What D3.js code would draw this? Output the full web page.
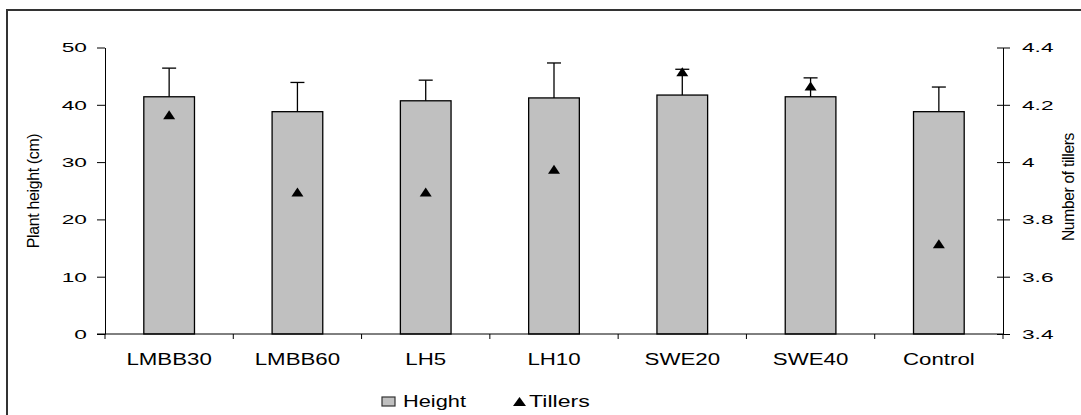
<!DOCTYPE html>
<html><head><meta charset="utf-8">
<script src="https://cdn.jsdelivr.net/npm/d3@7"></script>
<style>body{margin:0;background:#fff}svg{display:block}text{font-family:"Liberation Sans",Arial,sans-serif;fill:#000}</style>
</head><body>
<script>
const categories = ["LMBB30","LMBB60","LH5","LH10","SWE20","SWE40","Control"];
const heightValues = [41.4, 38.8, 40.7, 41.2, 41.7, 41.4, 38.8];
const heightErrors = [5.0, 5.1, 3.6, 6.1, 4.5, 3.3, 4.3];
const tillerValues = [4.16, 3.89, 3.89, 3.97, 4.31, 4.26, 3.71];
const leftTicks = [0, 10, 20, 30, 40, 50];
const rightTicks = [3.4, 3.6, 3.8, 4.0, 4.2, 4.4];
const rightTickLabels = ["3.4","3.6","3.8","4","4.2","4.4"];

const W = 1081, H = 415;
const svg = d3.select("body").append("svg").attr("width", W).attr("height", H);

// frame
svg.append("line").attr("x1",7).attr("x2",7).attr("y1",10).attr("y2",H).attr("stroke","#333").attr("stroke-width",2);
svg.append("line").attr("x1",6).attr("x2",W).attr("y1",10).attr("y2",10).attr("stroke","#333").attr("stroke-width",2);

const x = d3.scaleBand().domain(categories).range([105, 1003]).padding(0);
const yL = d3.scaleLinear().domain([0, 50]).range([334, 47.5]);
const yR = d3.scaleLinear().domain([3.4, 4.4]).range([334, 47.5]);
const barFrac = 0.395;
const bw = x.bandwidth() * barFrac;
const cx = c => x(c) + x.bandwidth() / 2;

const SX = 1.68;

// bars
svg.append("g").selectAll("rect").data(categories).join("rect")
  .attr("x", c => cx(c) - bw/2)
  .attr("y", (c,i) => yL(heightValues[i]))
  .attr("width", bw)
  .attr("height", (c,i) => yL(0) - yL(heightValues[i]))
  .attr("fill", "#c0c0c0").attr("stroke", "#000").attr("stroke-width", 1.3);

// error bars
const eg = svg.append("g").attr("stroke","#000").attr("stroke-width",1.3);
categories.forEach((c,i) => {
  eg.append("line").attr("x1",cx(c)).attr("x2",cx(c))
    .attr("y1",yL(heightValues[i])).attr("y2",yL(heightValues[i]+heightErrors[i]));
  eg.append("line").attr("x1",cx(c)-7).attr("x2",cx(c)+7)
    .attr("y1",yL(heightValues[i]+heightErrors[i])).attr("y2",yL(heightValues[i]+heightErrors[i]));
});

// left axis
const gl = svg.append("g").attr("transform","translate(105,0)")
  .call(d3.axisLeft(yL).tickValues(leftTicks).tickSize(8).tickSizeOuter(0).tickPadding(10));
gl.select(".domain").attr("stroke","#000");
gl.selectAll("line").attr("stroke","#000");
gl.selectAll("text").attr("font-size",13.5).attr("font-family",null)
  .each(function(){ const t=d3.select(this); const xx=+t.attr("x"); t.attr("x",0).attr("transform",`translate(${xx},0) scale(${SX},1)`); });

// right axis
const gr = svg.append("g").attr("transform","translate(1003,0)")
  .call(d3.axisRight(yR).tickValues(rightTicks).tickFormat((d,i)=>rightTickLabels[i]).tickSize(7).tickSizeOuter(0).tickPadding(12));
gr.select(".domain").attr("stroke","#000");
gr.selectAll(".tick line").attr("x1",-6).attr("stroke","#000");
gr.selectAll("text").attr("font-size",13.5).attr("font-family",null)
  .each(function(){ const t=d3.select(this); const xx=+t.attr("x"); t.attr("x",0).attr("transform",`translate(${xx},0) scale(${SX},1)`); });

// x axis
const xg = svg.append("g");
xg.append("line").attr("x1",97).attr("x2",1003).attr("y1",yL(0)).attr("y2",yL(0)).attr("stroke","#000");
const bounds = categories.map(c => x(c)).concat([x.range()[1]]);
xg.selectAll("line.tk").data(bounds).join("line").attr("class","tk")
  .attr("x1",d=>d).attr("x2",d=>d).attr("y1",yL(0)).attr("y2",yL(0)+5).attr("stroke","#000");
xg.selectAll("text").data(categories).join("text")
  .attr("transform", c => `translate(${cx(c)},${yL(0)+31}) scale(1.35,1)`)
  .attr("text-anchor","middle").attr("font-size",16.5).text(c => c);

// tillers triangles
const tri = (w,h) => `M0,${-2*h/3}L${w/2},${h/3}L${-w/2},${h/3}Z`;
svg.append("g").selectAll("path").data(categories).join("path")
  .attr("d", tri(12, 9))
  .attr("transform", (c,i) => `translate(${cx(c)},${yR(tillerValues[i])})`)
  .attr("fill","#000");

// axis titles
svg.append("text").attr("transform","translate(39,191) rotate(-90) scale(1.06,1.05)")
  .attr("text-anchor","middle").attr("font-size",15).attr("letter-spacing",-0.3).text("Plant height (cm)");
svg.append("text").attr("transform","translate(1074,187) rotate(-90) scale(1.04,1.1)")
  .attr("text-anchor","middle").attr("font-size",15).attr("letter-spacing",-0.3).text("Number of tillers");

// legend
const lg = svg.append("g");
lg.append("rect").attr("x",382).attr("y",397).attr("width",13).attr("height",9)
  .attr("fill","#c0c0c0").attr("stroke","#333").attr("stroke-width",1.2);
lg.append("text").attr("transform","translate(403,407) scale(1.32,1)").attr("font-size",16.5).text("Height");
lg.append("path").attr("d", tri(13, 9)).attr("transform","translate(519.5,403)").attr("fill","#000");
lg.append("text").attr("transform","translate(529,407) scale(1.4,1)").attr("font-size",16.5).text("Tillers");
</script>
</body></html>
